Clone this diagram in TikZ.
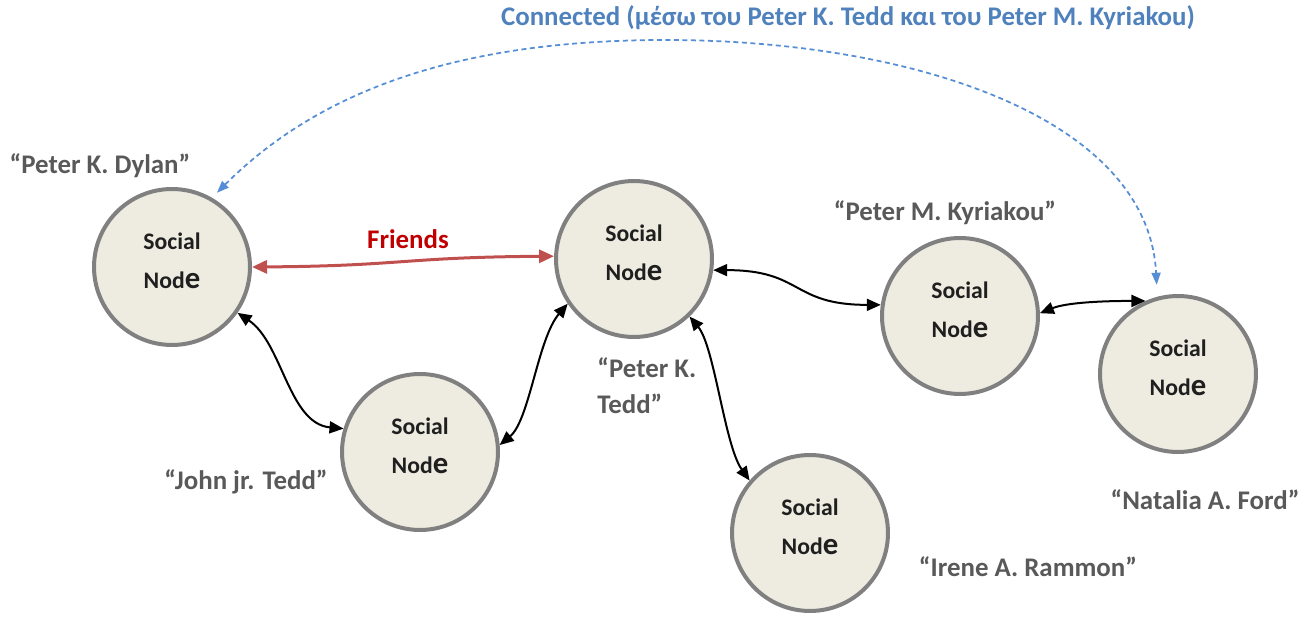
\documentclass[tikz,border=0pt]{standalone}
\usepackage{fontspec}
\setmainfont{Carlito}
\usetikzlibrary{arrows.meta}
\definecolor{nodefill}{HTML}{EEECE1}
\definecolor{nodeborder}{HTML}{808080}
\definecolor{labelgray}{HTML}{595959}
\definecolor{nodetext}{HTML}{1F1F1F}
\definecolor{friendred}{HTML}{C0504D}
\definecolor{friendtext}{HTML}{C00000}
\definecolor{connblue}{HTML}{558ED5}
\definecolor{titleblue}{HTML}{4F81BD}
\newcommand{\socialtext}{Social\\[6pt]Nod{\fontsize{17.5}{17.5}\selectfont e}\rule[-7.5pt]{0pt}{1pt}}
\tikzset{
  social/.style={circle, draw=nodeborder, line width=0.08cm, fill=nodefill,
    minimum size=3.12cm, inner sep=0pt, align=center, text=nodetext,
    font=\fontsize{13.5}{16}\selectfont\bfseries},
  namelabel/.style={text=labelgray, font=\fontsize{15.3}{18}\selectfont\bfseries, inner sep=0pt},
  link/.style={line width=0.04cm, black, {Triangle[length=0.28cm,width=0.24cm]}-{Triangle[length=0.28cm,width=0.24cm]}},
  friendlink/.style={line width=0.06cm, friendred, {Triangle[length=0.3cm,width=0.26cm]}-{Triangle[length=0.3cm,width=0.26cm]}},
  connlink/.style={line width=0.035cm, connblue, dash pattern=on 0.1cm off 0.07cm,
    {Triangle[length=0.24cm,width=0.18cm]}-{Triangle[length=0.24cm,width=0.18cm]}}
}
\begin{document}
\begin{tikzpicture}[x=0.02cm, y=-0.02cm]
\useasboundingbox (0,0) rectangle (1303,621);
% nodes
\node[social] (dylan) at (172,267) {\socialtext};
\node[social] (tedd) at (634,259) {\socialtext};
\node[social] (john) at (420,452) {\socialtext};
\node[social] (kyr) at (960,316) {\socialtext};
\node[social] (nat) at (1178,374) {\socialtext};
\node[social] (irene) at (810,533) {\socialtext};
% labels
\node[namelabel] (ldylan) at (100,166) {“Peter K. Dylan”};
\node[namelabel] (lkyr) at (945,213) {“Peter M. Kyriakou”};
\node[namelabel, align=left, anchor=west, font=\fontsize{15.3}{20.4}\selectfont\bfseries] (ltedd) at (597,386) {“Peter K.\\Tedd”};
\node[namelabel] (ljohn) at (246,482) {“John jr. Tedd”};
\node[namelabel] (lirene) at (1028,567) {“Irene A. Rammon”};
\node[namelabel] (lnat) at (1205,500) {“Natalia A. Ford”};
\node[inner sep=0pt, text=titleblue, font=\fontsize{15.3}{18}\selectfont\bfseries] (title) at (848,18) {Connected (μέσω του Peter K. Tedd και του Peter M. Kyriakou)};
\node[inner sep=0pt, text=friendtext, font=\fontsize{15.3}{18}\selectfont\bfseries] (friends) at (408,239) {Friends};
\coordinate (arctop) at (665,40);
% connectors
\draw[friendlink] (dylan.0) .. controls +(150,-1) and +(-150,1) .. (tedd.178);
\draw[link] (dylan.-35) .. controls +(45,30) and +(-55,-5) .. (john.163);
\draw[link] (john.5) .. controls +(30,-25) and +(-30,35) .. (tedd.-146);
\draw[link] (tedd.-8) .. controls +(90,0) and +(-90,0) .. (kyr.172);
\draw[link] (tedd.-46) .. controls +(25,30) and +(-25,-35) .. (irene.139);
\draw[link] (kyr.2) .. controls +(25,-10) and +(-50,0) .. (nat.114);
\draw[connlink, shorten <=0.14cm, shorten >=0.24cm] (dylan.60) .. controls +(110,-110) and +(-200,0) .. (arctop) .. controls +(250,0) and +(-9,-178) .. (nat.105);
\end{tikzpicture}
\end{document}
